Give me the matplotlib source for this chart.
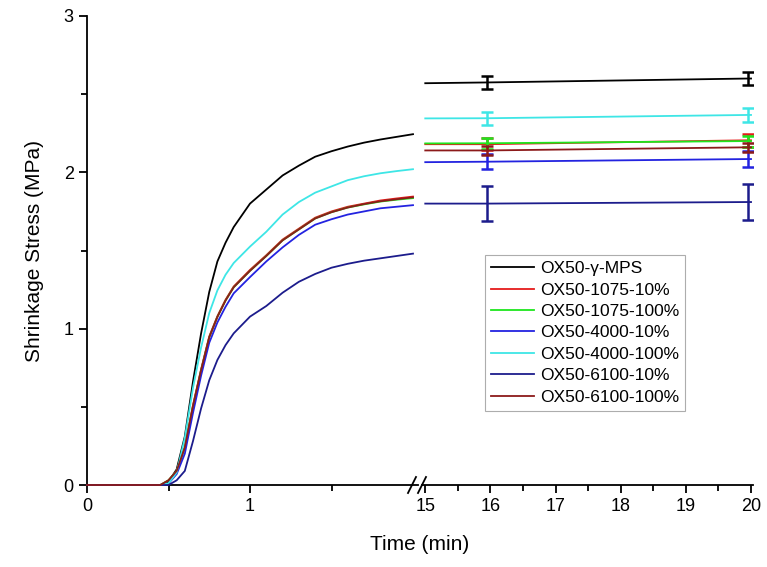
import matplotlib
matplotlib.use("Agg")
import matplotlib.pyplot as plt
from matplotlib.lines import Line2D
from matplotlib.ticker import MultipleLocator, FixedLocator

plt.rcParams['font.family'] = ['Liberation Sans', 'DejaVu Sans']

names = ["OX50-γ-MPS", "OX50-1075-10%", "OX50-1075-100%", "OX50-4000-10%",
         "OX50-4000-100%", "OX50-6100-10%", "OX50-6100-100%"]
colors = ["#000000", "#e51b1b", "#1ee61e", "#2323e0", "#3ee6e6", "#1c1c8c", "#8c1a1a"]

# Early-time curves (0-2 min)
t_early = [0.0, 0.45, 0.5, 0.55, 0.6, 0.65, 0.7, 0.75, 0.8, 0.85, 0.9, 1.0, 1.1, 1.2, 1.3, 1.4, 1.5, 1.6, 1.7, 1.8, 1.9, 2.0]
s_black   = [0, 0, 0.02, 0.10, 0.31, 0.66, 0.97, 1.235, 1.43, 1.55, 1.65, 1.80, 1.89, 1.98, 2.043, 2.10, 2.135, 2.165, 2.19, 2.21, 2.227, 2.244]
s_red     = [0, 0, 0.03, 0.09, 0.24, 0.51, 0.74, 0.95, 1.08, 1.185, 1.27, 1.376, 1.47, 1.57, 1.64, 1.71, 1.75, 1.78, 1.80, 1.82, 1.833, 1.845]
s_green   = [0, 0, 0.03, 0.09, 0.24, 0.50, 0.735, 0.945, 1.075, 1.18, 1.265, 1.37, 1.465, 1.565, 1.635, 1.705, 1.745, 1.775, 1.795, 1.813, 1.825, 1.835]
s_blue    = [0, 0, 0.01, 0.07, 0.20, 0.46, 0.70, 0.91, 1.04, 1.14, 1.226, 1.33, 1.43, 1.52, 1.60, 1.665, 1.70, 1.73, 1.75, 1.77, 1.78, 1.79]
s_cyan    = [0, 0, 0.01, 0.08, 0.30, 0.62, 0.88, 1.10, 1.245, 1.345, 1.42, 1.525, 1.62, 1.73, 1.81, 1.87, 1.91, 1.95, 1.975, 1.994, 2.008, 2.02]
s_navy    = [0, 0, 0.00, 0.03, 0.09, 0.28, 0.49, 0.67, 0.80, 0.895, 0.97, 1.077, 1.145, 1.23, 1.30, 1.35, 1.39, 1.415, 1.435, 1.45, 1.465, 1.48]
s_darkred = [0, 0, 0.03, 0.09, 0.24, 0.505, 0.735, 0.945, 1.075, 1.18, 1.265, 1.37, 1.465, 1.565, 1.635, 1.705, 1.745, 1.775, 1.797, 1.815, 1.828, 1.84]
early = [s_black, s_red, s_green, s_blue, s_cyan, s_navy, s_darkred]

# Late-time plateau (15-20 min)
t_late = [15.0, 15.95, 19.95, 20.0]
l_black   = [2.57, 2.575, 2.60, 2.60]
l_red     = [2.18, 2.18, 2.205, 2.205]
l_green   = [2.185, 2.186, 2.20, 2.20]
l_blue    = [2.065, 2.068, 2.085, 2.085]
l_cyan    = [2.345, 2.346, 2.367, 2.367]
l_navy    = [1.80, 1.80, 1.81, 1.81]
l_darkred = [2.14, 2.14, 2.16, 2.16]
late = [l_black, l_red, l_green, l_blue, l_cyan, l_navy, l_darkred]

# Error bars at 15.95 and 19.95 min
t_err = [15.95, 19.95]
e_black   = [0.04, 0.04]
e_red     = [0.04, 0.04]
e_green   = [0.035, 0.035]
e_blue    = [0.048, 0.05]
e_cyan    = [0.043, 0.046]
e_navy    = [0.114, 0.113]
e_darkred = [0.03, 0.03]
errs = [e_black, e_red, e_green, e_blue, e_cyan, e_navy, e_darkred]

fig = plt.figure(figsize=(7.67, 5.67), dpi=100)
W, H = 767.0, 567.0
bottom = (H - 485) / H
height = (485 - 16) / H
ax1 = fig.add_axes([87 / W, bottom, (418 - 87) / W, height])
ax2 = fig.add_axes([422 / W, bottom, (753 - 422) / W, height])

lw = 1.3
for s, c, n in zip(early, colors, names):
    ax1.plot(t_early, s, color=c, lw=lw, label=n, clip_on=False, zorder=3)

for s, e, c in zip(late, errs, colors):
    ax2.plot(t_late, s, color=c, lw=lw)
    ax2.errorbar(t_err, [s[1], s[2]], yerr=e, fmt='none', ecolor=c,
                 elinewidth=1.8, capsize=4, capthick=1.8)

ax1.set_xlim(0, (418 - 87) / 163.0)
ax2.set_xlim(14.95, 20.03)
for ax in (ax1, ax2):
    ax.set_ylim(0, 3)
    ax.spines['top'].set_visible(False)
    ax.spines['right'].set_visible(False)
    ax.spines['bottom'].set_linewidth(1.3)
    ax.spines['left'].set_linewidth(1.3)
    ax.spines['bottom'].set_zorder(2)
    ax.tick_params(direction='out', which='major', length=6, width=1.3, labelsize=13)
    ax.tick_params(direction='out', which='minor', length=4, width=1.3)
    ax.patch.set_alpha(0)

ax1.xaxis.set_major_locator(FixedLocator([0, 1]))
ax1.xaxis.set_minor_locator(FixedLocator([0.5, 1.5]))
ax1.yaxis.set_major_locator(MultipleLocator(1))
ax1.yaxis.set_minor_locator(MultipleLocator(0.5))
ax1.set_ylabel("Shrinkage Stress (MPa)", fontsize=15, labelpad=14)

ax2.spines['left'].set_visible(False)
ax2.tick_params(axis='y', which='both', left=False, labelleft=False)
ax2.xaxis.set_major_locator(MultipleLocator(1))
ax2.xaxis.set_minor_locator(MultipleLocator(0.5))

fig.text(420 / W, 1 - 545 / H, "Time (min)", fontsize=15, ha='center', va='center')

# break marks
y0 = 1 - 485 / H
for xc in (412, 422):
    fig.add_artist(Line2D([(xc - 4) / W, (xc + 4) / W], [y0 - 8 / H, y0 + 8 / H],
                          color='black', lw=1.3))

leg = ax1.legend(loc='upper left', bbox_to_anchor=(485 / W, 1 - 255 / H),
                 bbox_transform=fig.transFigure, fontsize=12.5, frameon=True,
                 fancybox=False, edgecolor='#999999', handlelength=2.5,
                 labelspacing=0.36, borderpad=0.35, handletextpad=0.3,
                 borderaxespad=0)
leg.get_frame().set_linewidth(0.8)
leg.set_zorder(5)

fig.savefig("out.png", dpi=100)
